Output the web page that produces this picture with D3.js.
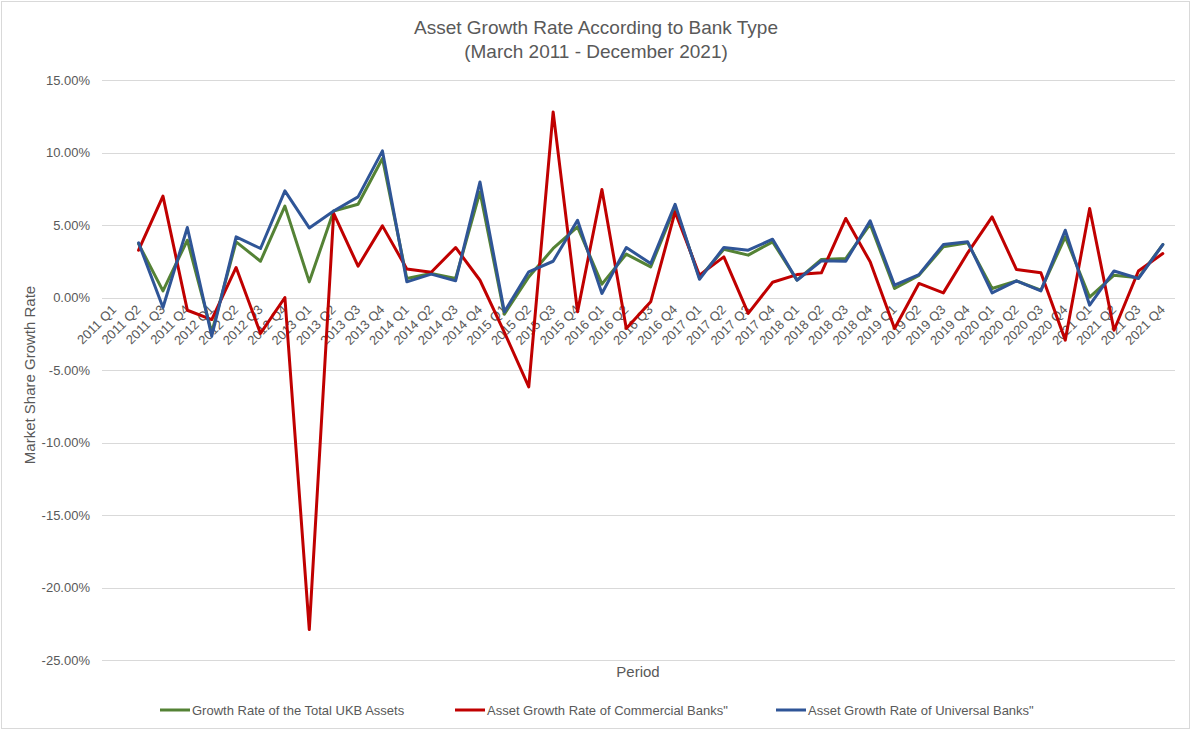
<!DOCTYPE html>
<html>
<head>
<meta charset="utf-8">
<script src="https://cdn.jsdelivr.net/npm/d3@7"></script>
<style>
  html, body { margin: 0; padding: 0; background: #fff; }
  svg { display: block; font-family: "Liberation Sans", Arial, sans-serif; }
</style>
</head>
<body>
<svg id="chart" width="1191" height="730"></svg>
<script>
const periods = [
  "2011 Q1","2011 Q2","2011 Q3","2011 Q4",
  "2012 Q1","2012 Q2","2012 Q3","2012 Q4",
  "2013 Q1","2013 Q2","2013 Q3","2013 Q4",
  "2014 Q1","2014 Q2","2014 Q3","2014 Q4",
  "2015 Q1","2015 Q2","2015 Q3","2015 Q4",
  "2016 Q1","2016 Q2","2016 Q3","2016 Q4",
  "2017 Q1","2017 Q2","2017 Q3","2017 Q4",
  "2018 Q1","2018 Q2","2018 Q3","2018 Q4",
  "2019 Q1","2019 Q2","2019 Q3","2019 Q4",
  "2020 Q1","2020 Q2","2020 Q3","2020 Q4",
  "2021 Q1","2021 Q2","2021 Q3","2021 Q4"
];

// values in percent; null = no data
const totalUKB = [null, 3.7, 0.46, 3.95, -2.4, 3.84, 2.5, 6.3, 1.08, 5.97, 6.43, 9.59,
  1.31, 1.65, 1.31, 7.28, -1.15, 1.42, 3.38, 4.87, 0.92, 2.99, 2.11, 6.25,
  1.36, 3.33, 2.92, 3.84, 1.2, 2.62, 2.69, 5.06, 0.62, 1.53, 3.49, 3.77,
  0.62, 1.15, 0.5, 4.18, 0.02, 1.54, 1.36, 3.65];

const commercial = [null, 3.26, 6.99, -0.88, -1.52, 2.07, -2.48, 0.0, -22.9, 5.8, 2.16, 4.94,
  1.97, 1.74, 3.45, 1.19, -2.4, -6.16, 12.8, -0.99, 7.45, -2.14, -0.3, 5.9,
  1.54, 2.8, -1.1, 1.05, 1.58, 1.7, 5.45, 2.46, -2.14, 0.97, 0.32, 3.08,
  5.56, 1.93, 1.7, -2.94, 6.14, -2.26, 1.83, 3.03];

const universal = [null, 3.77, -0.69, 4.83, -2.67, 4.18, 3.38, 7.35, 4.8, 5.97, 6.94, 10.11,
  1.08, 1.61, 1.15, 7.97, -0.99, 1.77, 2.5, 5.33, 0.28, 3.45, 2.34, 6.43,
  1.26, 3.45, 3.26, 4.02, 1.19, 2.53, 2.5, 5.29, 0.85, 1.58, 3.65, 3.84,
  0.32, 1.15, 0.46, 4.64, -0.53, 1.83, 1.31, 3.65];

const yTicks = [15, 10, 5, 0, -5, -10, -15, -20, -25];

const seriesNames = [
  "Growth Rate of the Total UKB Assets",
  "Asset Growth Rate of Commercial Banks\"",
  "Asset Growth Rate of Universal Banks\""
];
const seriesColors = ["#548235", "#C00000", "#2F5597"];
const seriesData = [totalUKB, commercial, universal];

const svg = d3.select("#chart");
const W = 1191, H = 730;
const margin = { left: 102, right: 1175, top: 80, bottom: 660 };

svg.append("rect")
  .attr("x", 1.5).attr("y", 1.5)
  .attr("width", W - 3).attr("height", H - 3)
  .attr("fill", "#fff").attr("stroke", "#d9d9d9").attr("stroke-width", 1);

const x = d3.scaleBand().domain(periods).range([margin.left, margin.right]).paddingInner(0).paddingOuter(0);
const y = d3.scaleLinear().domain([-25, 15]).range([margin.bottom, margin.top]);

// gridlines
svg.append("g").selectAll("line").data(yTicks).join("line")
  .attr("x1", margin.left).attr("x2", margin.right)
  .attr("y1", d => Math.round(y(d)) + 0.5).attr("y2", d => Math.round(y(d)) + 0.5)
  .attr("stroke", "#d9d9d9").attr("stroke-width", 1);

// y axis labels
const yAxis = d3.axisLeft(y).tickValues(yTicks).tickSize(0).tickPadding(0)
  .tickFormat(d => d3.format(".2f")(d).replace("\u2212", "-") + "%");
const yg = svg.append("g").attr("transform", `translate(90,0)`).call(yAxis);
yg.select(".domain").remove();
yg.selectAll("text").attr("fill", "#595959").style("font-size", "13px")
  .style("font-family", "'Liberation Sans', Arial, sans-serif");

// x axis labels (rotated)
const xAxis = d3.axisBottom(x).tickSize(0).tickPadding(0);
const xg = svg.append("g").attr("transform", `translate(0,${y(0)})`).call(xAxis);
xg.select(".domain").remove();
xg.selectAll("text")
  .attr("fill", "#595959").style("font-size", "13px")
  .style("font-family", "'Liberation Sans', Arial, sans-serif")
  .attr("text-anchor", "end")
  .attr("dy", "0")
  .attr("transform", "translate(3,13) rotate(-45)");

// lines
const line = d3.line()
  .defined(d => d.v !== null)
  .x(d => x(d.p) + x.bandwidth() / 2)
  .y(d => y(d.v));

seriesData.forEach((arr, i) => {
  const pts = periods.map((p, j) => ({ p, v: arr[j] }));
  svg.append("path")
    .datum(pts)
    .attr("fill", "none")
    .attr("stroke", seriesColors[i])
    .attr("stroke-width", 3)
    .attr("stroke-linejoin", "round")
    .attr("stroke-linecap", "round")
    .attr("d", line);
});

// title
svg.append("text").attr("x", 596).attr("y", 34).attr("text-anchor", "middle")
  .attr("fill", "#595959").style("font-size", "19px").text("Asset Growth Rate According to Bank Type");
svg.append("text").attr("x", 596).attr("y", 58).attr("text-anchor", "middle")
  .attr("fill", "#595959").style("font-size", "19px").text("(March 2011 - December 2021)");

// axis titles
svg.append("text").attr("x", 638).attr("y", 677).attr("text-anchor", "middle")
  .attr("fill", "#595959").style("font-size", "15px").text("Period");
svg.append("text").attr("transform", "translate(35,375) rotate(-90)").attr("text-anchor", "middle")
  .attr("fill", "#595959").style("font-size", "15px").text("Market Share Growth Rate");

// legend
const legendX = [160, 455, 776];
const lg = svg.append("g");
seriesNames.forEach((name, i) => {
  lg.append("line")
    .attr("x1", legendX[i]).attr("x2", legendX[i] + 30)
    .attr("y1", 710).attr("y2", 710)
    .attr("stroke", seriesColors[i]).attr("stroke-width", 3).attr("stroke-linecap", "butt");
  lg.append("text")
    .attr("x", legendX[i] + 32).attr("y", 715)
    .attr("fill", "#595959").style("font-size", "13px").text(name);
});
</script>
</body>
</html>
